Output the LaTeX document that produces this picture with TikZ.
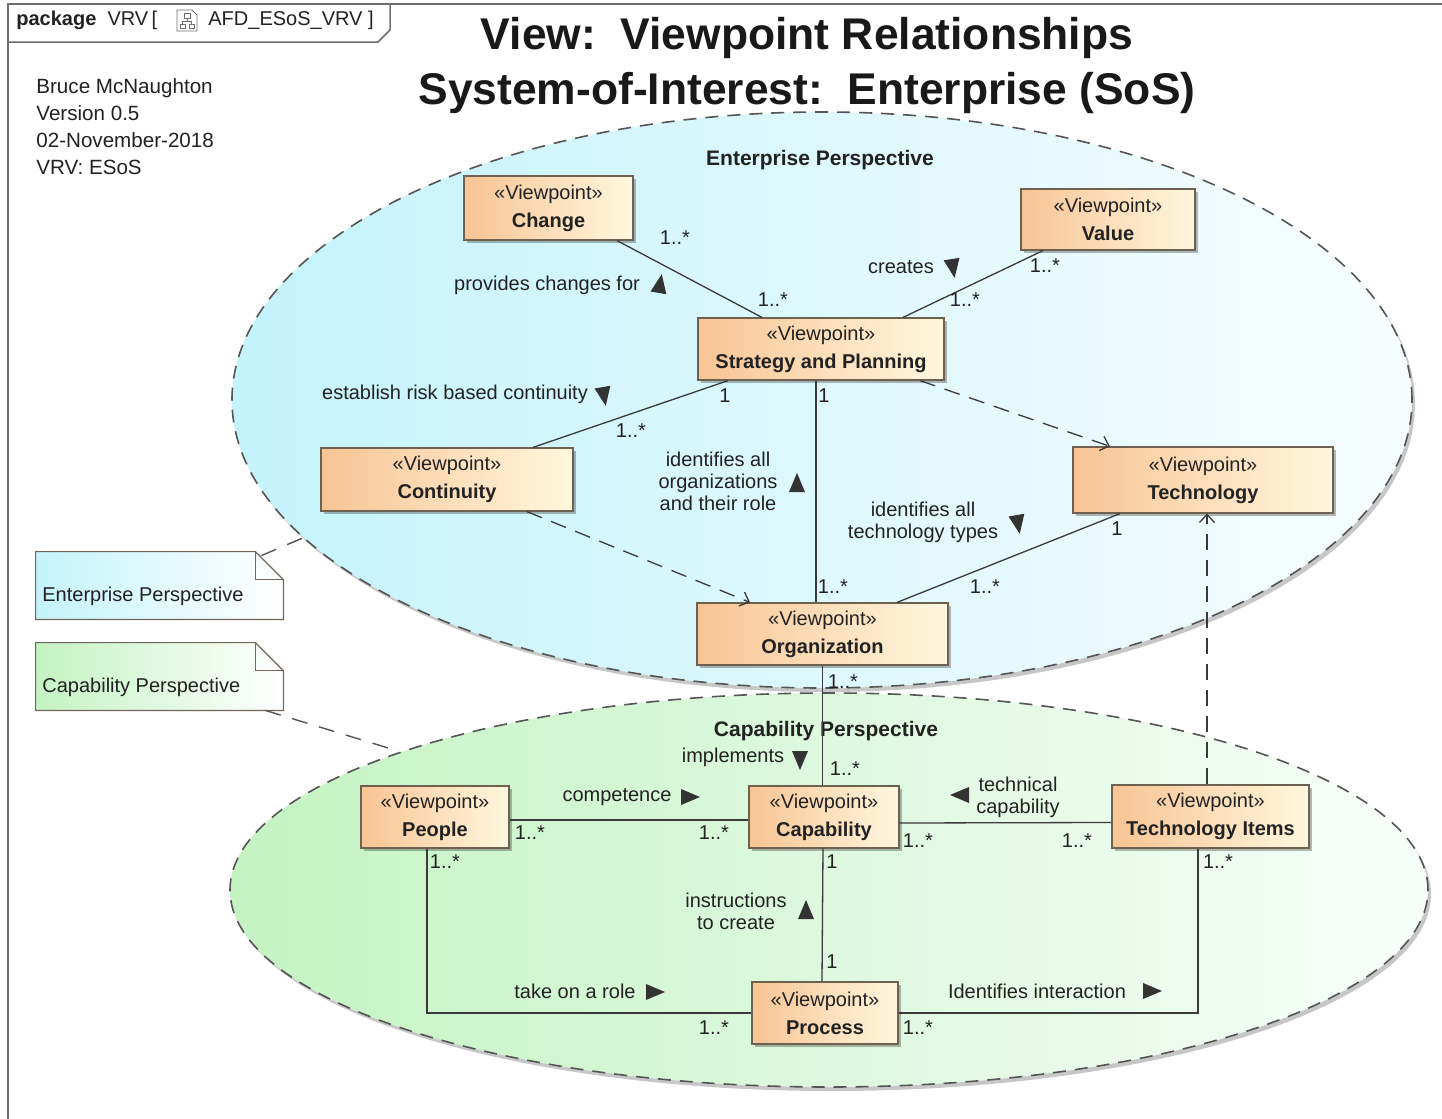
\documentclass[tikz,border=0pt]{standalone}
\usepackage{fontspec}
\setmainfont{Liberation Sans}
\usetikzlibrary{arrows.meta,shadows,calc}

\definecolor{inkc}{HTML}{222222}
\definecolor{linec}{HTML}{3A3A3A}
\definecolor{dashc}{HTML}{555555}
\definecolor{framec}{HTML}{6D6D6D}
\definecolor{boxl}{RGB}{248,196,148}
\definecolor{boxr}{RGB}{255,247,222}
\definecolor{boxb}{HTML}{6E6150}
\definecolor{entl}{RGB}{196,243,251}
\definecolor{entm}{RGB}{218,247,252}
\definecolor{entr}{RGB}{247,253,255}
\definecolor{capl}{RGB}{196,243,194}
\definecolor{capm}{RGB}{220,248,222}
\definecolor{capr}{RGB}{247,254,250}
\definecolor{tric}{HTML}{333333}

\tikzset{
  vp/.style={draw=boxb, line width=0.6pt, left color=boxl, right color=boxr,
    inner sep=0pt, align=center, text=inkc,
    font=\fontsize{10}{14}\selectfont,
    drop shadow={shadow xshift=1.5pt, shadow yshift=-1.5pt, fill=black, opacity=0.28}},
  assoc/.style={draw=linec, line width=0.65pt},
  dep/.style={draw=linec, line width=0.65pt, dash pattern=on 8pt off 5pt,
    -{Straight Barb[length=4pt,width=7.5pt]}},
  persp/.style={draw=dashc, line width=0.8pt, dash pattern=on 6.5pt off 4.5pt},
  notelink/.style={draw=dashc, line width=0.7pt, dash pattern=on 8pt off 6pt},
  notebox/.style={draw=boxb!80!gray, line width=0.6pt},
  lab/.style={font=\fontsize{10}{11}\selectfont, text=inkc, inner sep=0pt, align=center},
  persphead/.style={font=\fontsize{10.5}{12}\selectfont\bfseries, text=inkc, inner sep=0pt},
  framedraw/.style={draw=framec, line width=0.75pt},
}

% filled direction marker of an association name
\newcommand{\navtri}[3]{%
  \begin{scope}[shift={(#1,#2)},x=1pt,y=1pt,rotate=#3]
    \fill[tric] (5,0) -- (-4.5,4) -- (-4.5,-4) -- cycle;
  \end{scope}}

\begin{document}
\begin{tikzpicture}[x=0.5pt,y=-0.5pt]
\useasboundingbox (0,0) rectangle (1442,1119);
\fill[white] (0,0) rectangle (1442,1119);

% package frame and its name tab
\draw[framedraw] (1442,4) -- (8,4) -- (8,1119);
\draw[framedraw] (8,42) -- (378,42) -- (390,30) -- (390,4);
\node[anchor=west, font=\fontsize{10}{11}\selectfont, text=inkc, inner sep=0pt] (pkg) at (16,20) {\textbf{package}\ \ VRV\,[};
\draw[framedraw, line width=0.45pt, fill=white] (177,10) -- (192,10) -- (197,15) -- (197,31) -- (177,31) -- cycle;
\draw[framedraw, line width=0.4pt] (184,13) rectangle (190,18)
  (187,18) -- (187,21) (182.5,21) -- (191.5,21) (182.5,21) -- (182.5,24) (191.5,21) -- (191.5,24)
  (180,24) rectangle (185,28) (189,24) rectangle (194,28);
\node[anchor=west, font=\fontsize{10}{11}\selectfont, text=inkc, inner sep=0pt] (pkgname) at (208,20) {AFD\_ESoS\_VRV ]};

% author block and title
\node[anchor=west, align=left, font=\fontsize{10.3}{13.5}\selectfont, text=inkc, inner sep=0pt] (author) at (36,126.5)
  {Bruce McNaughton\\Version 0.5\\02-November-2018\\VRV: ESoS};
\node[align=center, font=\fontsize{22.2}{27.5}\selectfont\bfseries, text=black!90, inner sep=0pt] (title) at (807,66)
  {View:\ \ Viewpoint Relationships\\System-of-Interest:\ \ Enterprise (SoS)};

% perspective regions
\fill[black, opacity=0.22] (832,894) ellipse [x radius=299.5pt, y radius=98.5pt];
\path[persp, left color=capl, middle color=capm, right color=capr] (829,890) ellipse [x radius=299.5pt, y radius=98.5pt];
\fill[black, opacity=0.22] (825,404) ellipse [x radius=295pt, y radius=144pt];
\path[persp, left color=entl, middle color=entm, right color=entr] (822,400) ellipse [x radius=295pt, y radius=144pt];
\node[persphead] (enthead) at (820,160) {Enterprise Perspective};
\node[persphead] (caphead) at (826,731) {Capability Perspective};

% notes
\node[minimum width=123.5pt, minimum height=33.5pt, inner sep=0pt] (enote) at (159.5,585.5) {};
\node[minimum width=123.5pt, minimum height=33.5pt, inner sep=0pt] (cnote) at (159.5,676.5) {};
\fill[black, opacity=0.25, shift={(3,3)}] (enote.north west) -- ([xshift=-14pt]enote.north east) -- ([yshift=-14pt]enote.north east) -- (enote.south east) -- (enote.south west) -- cycle;
\path[notebox, left color=entl, right color=white] (enote.north west) -- ([xshift=-14pt]enote.north east) -- ([yshift=-14pt]enote.north east) -- (enote.south east) -- (enote.south west) -- cycle;
\draw[notebox] ([xshift=-14pt]enote.north east) -- ([xshift=-14pt,yshift=-14pt]enote.north east) -- ([yshift=-14pt]enote.north east);
\fill[black, opacity=0.25, shift={(3,3)}] (cnote.north west) -- ([xshift=-14pt]cnote.north east) -- ([yshift=-14pt]cnote.north east) -- (cnote.south east) -- (cnote.south west) -- cycle;
\path[notebox, left color=capl, right color=white] (cnote.north west) -- ([xshift=-14pt]cnote.north east) -- ([yshift=-14pt]cnote.north east) -- (cnote.south east) -- (cnote.south west) -- cycle;
\draw[notebox] ([xshift=-14pt]cnote.north east) -- ([xshift=-14pt,yshift=-14pt]cnote.north east) -- ([yshift=-14pt]cnote.north east);
\node[lab, anchor=west] (enotetext) at (42,596) {Enterprise Perspective};
\node[lab, anchor=west] (cnotetext) at (42,687) {Capability Perspective};
\coordinate (entedge) at (305,537);
\coordinate (capedge) at (398,751);
\draw[notelink] ([xshift=-11pt,yshift=-2pt]enote.north east) -- (entedge);
\draw[notelink] ([xshift=-9pt]cnote.south east) -- (capedge);

% viewpoints
\node[vp, minimum width=84.5pt, minimum height=32pt] (change) at (548.5,208) {«Viewpoint»\\\textbf{Change}};
\node[vp, minimum width=87pt, minimum height=30.5pt] (value) at (1108,219.5) {«Viewpoint»\\\textbf{Value}};
\node[vp, minimum width=123pt, minimum height=31pt] (strategy) at (821,349) {«Viewpoint»\\\textbf{Strategy and Planning}};
\node[vp, minimum width=126pt, minimum height=31.5pt] (continuity) at (447,479.5) {«Viewpoint»\\\textbf{Continuity}};
\node[vp, minimum width=130pt, minimum height=33pt] (technology) at (1203,480) {«Viewpoint»\\\textbf{Technology}};
\node[vp, minimum width=125.5pt, minimum height=31pt] (organization) at (822.5,634) {«Viewpoint»\\\textbf{Organization}};
\node[vp, minimum width=74pt, minimum height=31pt] (people) at (435,817) {«Viewpoint»\\\textbf{People}};
\node[vp, minimum width=75pt, minimum height=31pt] (capability) at (824,817) {«Viewpoint»\\\textbf{Capability}};
\node[vp, minimum width=98.5pt, minimum height=31.5pt] (techitems) at (1210.5,816.5) {«Viewpoint»\\\textbf{Technology Items}};
\node[vp, minimum width=73pt, minimum height=31pt] (process) at (825,1013) {«Viewpoint»\\\textbf{Process}};

% associations
\draw[assoc] ([xshift=34.25pt]change.south) -- ([xshift=-29.5pt]strategy.north);
\draw[assoc] ([xshift=41pt]strategy.north) -- ([xshift=-32.5pt]value.south);
\draw[assoc] ([xshift=-46.5pt]strategy.south) -- ([xshift=43pt]continuity.north);
\draw[assoc] ([xshift=-2.5pt]strategy.south) -- ([xshift=-3.25pt]organization.north);
\draw[assoc] ([xshift=-41.5pt]technology.south) -- ([xshift=37.25pt]organization.north);
\draw[assoc] (organization.south) -- (organization.south |- capability.north);
\draw[assoc] ([yshift=-1.5pt]people.east) -- ([yshift=-1.5pt]capability.west);
\draw[assoc] ([yshift=-3pt]capability.east) -- ([yshift=-3pt]techitems.west);
\draw[assoc] ([xshift=-0.5pt]capability.south) -- ([xshift=-1.5pt]process.north);
\draw[assoc] ([xshift=-4pt]people.south) |- (process.west);
\draw[assoc] ([xshift=-6.25pt]techitems.south) |- (process.east);

% dependencies
\draw[dep] ([xshift=49.5pt]strategy.south) -- ([xshift=-46.5pt]technology.north);
\draw[dep] ([xshift=40pt]continuity.south) -- ([xshift=-36.25pt]organization.north);
\draw[dep] ([xshift=-1.75pt]techitems.north) -- ([xshift=2pt]technology.south);

% association names and multiplicities
\node[lab] (m1) at (675,238) {1..*};
\node[lab] (m2) at (773,300) {1..*};
\node[lab] (n1) at (547,285) {provides changes for};
\navtri{660}{284}{80}
\node[lab] (n2) at (901,267) {creates};
\navtri{953}{268}{-81}
\node[lab] (m3) at (1045,266) {1..*};
\node[lab] (m4) at (965,300) {1..*};
\node[lab] (n3) at (455,394) {establish risk based continuity};
\navtri{604}{396}{-80}
\node[lab] (m5) at (725,396) {1};
\node[lab] (m6) at (631,431) {1..*};
\node[lab] (m7) at (824,396) {1};
\node[lab] (m8) at (833,587) {1..*};
\node[lab] (n4) at (718,481) {identifies all\\organizations\\and their role};
\navtri{797}{483}{90}
\node[lab] (n5) at (923,522) {identifies all\\technology types};
\navtri{1018}{524}{-80}
\node[lab] (m9) at (1117,529) {1};
\node[lab] (m10) at (985,587) {1..*};
\node[lab] (m11) at (843,682) {1..*};
\node[lab] (n6) at (733,757) {implements};
\navtri{800}{760}{-90}
\node[lab] (m12) at (845,769) {1..*};
\node[lab] (n7) at (617,797) {competence};
\navtri{690}{797}{0}
\node[lab] (m13) at (530,833) {1..*};
\node[lab] (m14) at (714,833) {1..*};
\node[lab] (n8) at (1018,797) {technical\\capability};
\navtri{960}{795}{180}
\node[lab] (m15) at (918,841) {1..*};
\node[lab] (m16) at (1077,841) {1..*};
\node[lab] (m17) at (445,862) {1..*};
\node[lab] (m18) at (832,862) {1};
\node[lab] (m19) at (832,962) {1};
\node[lab] (n9) at (736,911) {instructions\\to create};
\navtri{806}{910}{90}
\node[lab] (n10) at (575,991) {take on a role};
\navtri{655}{992}{0}
\node[lab] (m20) at (714,1028) {1..*};
\node[lab] (m21) at (918,1028) {1..*};
\node[lab] (n11) at (1037,991) {Identifies interaction};
\navtri{1152}{991}{0}
\node[lab] (m22) at (1218,862) {1..*};
\end{tikzpicture}
\end{document}
